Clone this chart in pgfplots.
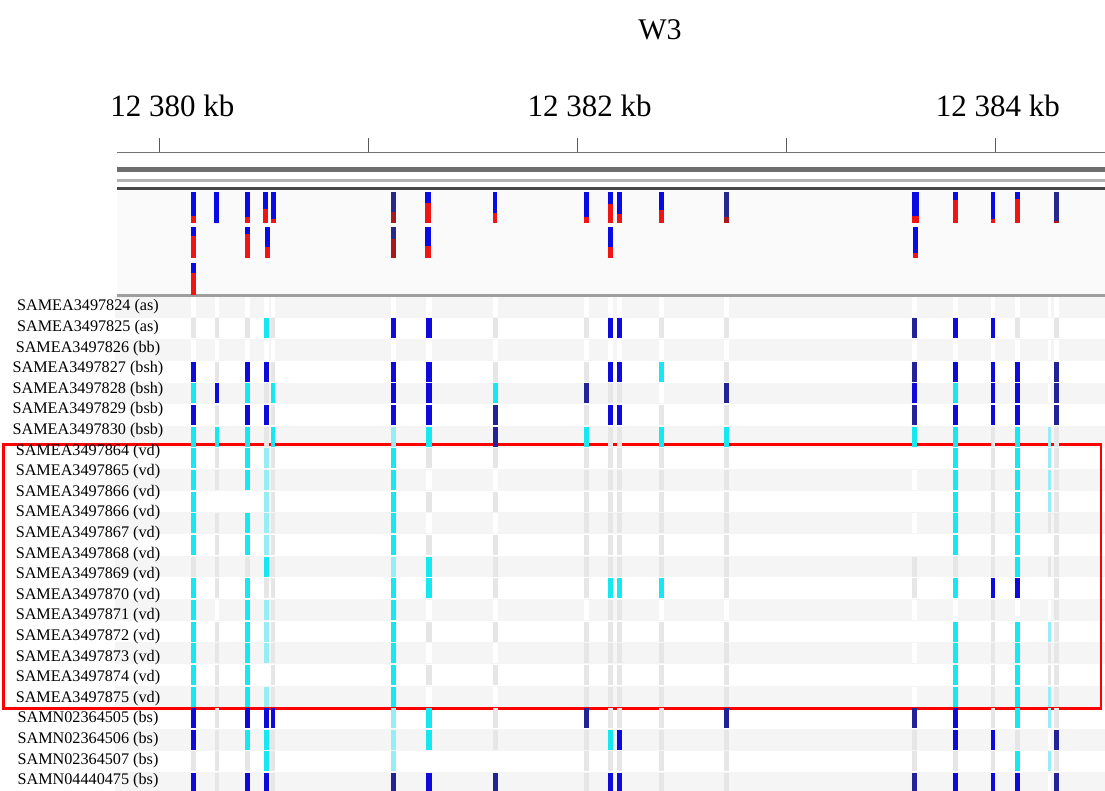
\documentclass[border=0pt]{standalone}
\usepackage{fontspec}
\setmainfont{Liberation Serif}
\usepackage{pgfplots}
\usepackage{pgfplotstable}
\pgfplotsset{compat=1.18}

\definecolor{gtC}{RGB}{22,232,242}
\definecolor{gtL}{RGB}{150,238,244}
\definecolor{gtB}{RGB}{15,10,220}
\definecolor{gtN}{RGB}{35,35,150}
\definecolor{gtG}{RGB}{230,230,230}
\definecolor{rowgray}{RGB}{245,245,245}
\definecolor{trackbg}{RGB}{250,250,250}
\definecolor{tB}{RGB}{10,10,230}
\definecolor{tR}{RGB}{240,20,20}
\definecolor{tDB}{RGB}{40,40,140}
\definecolor{tDR}{RGB}{170,25,25}

\pgfdeclareplotmark{gtbar}{\pgfpathrectangle{\pgfpoint{-0.5pt*\barw}{-5pt}}{\pgfpoint{1pt*\barw}{10pt}}\pgfusepath{fill}}
\pgfdeclareplotmark{tbblue}{\pgfpathrectangle{\pgfpoint{-0.5pt*\barw}{-15.8pt}}{\pgfpoint{1pt*\barw}{15.8pt}}\pgfusepath{fill}}
\pgfdeclareplotmark{tbred}{\pgfpathrectangle{\pgfpoint{-0.5pt*\barw}{-15.8pt}}{\pgfpoint{1pt*\barw}{15.8pt*\redf}}\pgfusepath{fill}}

% genotype matrix: one line per variant, one column per sample row
\pgfplotstableread{
x w s0 s1 s2 s3 s4 s5 s6 s7 s8 s9 s10 s11 s12 s13 s14 s15 s16 s17 s18 s19 s20 s21 s22
12380.164 2.3 W G W B C B C C C C C C G C C C C C C B B G B
12380.275 2.2 W G W G B G C G G W G G G G W G G G G G G G G
12380.421 2.3 W G W B C B C C C W C C G C C C C C C B C G B
12380.513 2.3 W C W B G B G L L L L L C G L L L W L B C C B
12380.545 2.2 W G W G C G C G G G G G G G G G G G G B G G G
12381.119 2.5 W B W B B B L C C C C C L C C C C C C L L L N
12381.289 3.2 W B W B B B C G W G W G C C W G W G W C C W B
12381.607 2.3 W G W G C N N G W G W G G G W G W G W G G W N
12382.043 2.3 W G W G N G C G G G G G G G W G G G G N G G G
12382.159 2.4 W B W B G B G G G G G G G C G G G G G G C G B
12382.200 2.4 W B W B G B G G G G G G G C G G G G G G B G B
12382.402 2.3 W G W C W G C G G G G G G C W G G G G G G G G
12382.713 2.3 W G W G N G C G G G G G G G W G G G G N G G G
12383.612 2.4 W N W N B N C W W W W W G G W W W W W N G G N
12383.810 2.4 W B W B C B C C C C C C G C W C C C C B B G B
12383.988 2.3 W B W B B B G G G G G G G B G G G G G G B G B
12384.104 2.3 W G W B B B C C C C C C C B W C C C C C G C B
12384.258 1.5 W W W W W W L L L L G W G W W L G G L L W L W
12384.291 2.3 W G W N N N G G G G G G G G G G G G G G N G N
}\gt

% variant track: x, top of bar (row units), width (pt), red fraction, dark flag
\pgfplotstableread{
x top w red d
12380.1645 -4.818 2.4 0.23 N
12380.2745 -4.818 2.4 0.00 N
12380.4209 -4.818 2.4 0.19 N
12380.5089 -4.818 2.4 0.45 N
12380.5452 -4.818 2.4 0.12 N
12381.1192 -4.818 2.4 0.37 D
12381.2866 -4.818 3.0 0.63 N
12381.6056 -4.818 2.4 0.32 N
12382.0432 -4.818 2.4 0.19 N
12382.1585 -4.818 2.4 0.61 N
12382.2006 -4.818 2.4 0.29 N
12382.4019 -4.818 2.4 0.42 N
12382.7133 -4.818 2.4 0.20 D
12383.6154 -4.818 3.4 0.23 N
12383.8076 -4.818 2.4 0.74 N
12383.9870 -4.818 2.4 0.12 N
12384.1042 -4.818 2.4 0.77 N
12384.2926 -4.818 2.4 0.08 D
12380.1645 -3.201 2.4 0.71 N
12380.4209 -3.201 2.4 0.77 N
12380.5165 -3.201 2.4 0.35 N
12381.1192 -3.201 2.4 0.62 D
12381.2866 -3.201 3.0 0.40 N
12382.1585 -3.201 2.4 0.37 N
12383.6154 -3.201 2.4 0.18 N
12380.1645 -1.510 2.4 0.69 N
}\vt

\begin{document}
\begin{tikzpicture}
\path[use as bounding box] (0,0) rectangle (552.5pt,395.5pt);
\begin{axis}[
  at={(58.5pt,0pt)}, anchor=south west,
  scale only axis, width=494pt, height=395.5pt,
  xmin=12379.7977, xmax=12384.5232,
  ymin=-13.672, ymax=22.864, y dir=reverse,
  axis on top,
  axis line style={draw=none}, tick style={draw=none},
  xtick=\empty,
  ytick={0.508,1.460,2.411,3.363,4.314,5.266,6.217,7.169,8.120,9.072,10.023,10.975,11.926,12.878,13.829,14.781,15.732,16.684,17.635,18.587,19.538,20.490,21.441,22.393},
  yticklabels={SAMEA3497824 (as),SAMEA3497825 (as),SAMEA3497826 (bb),SAMEA3497827 (bsh),SAMEA3497828 (bsh),SAMEA3497829 (bsb),SAMEA3497830 (bsb),SAMEA3497864 (vd),SAMEA3497865 (vd),SAMEA3497866 (vd),SAMEA3497866 (vd),SAMEA3497867 (vd),SAMEA3497868 (vd),SAMEA3497869 (vd),SAMEA3497870 (vd),SAMEA3497871 (vd),SAMEA3497872 (vd),SAMEA3497873 (vd),SAMEA3497874 (vd),SAMEA3497875 (vd),SAMN02364505 (bs),SAMN02364506 (bs),SAMN02364507 (bs),SAMN04440475 (bs)},
  yticklabel style={anchor=center, xshift=-14.5pt, font=\fontsize{8.1}{9}\selectfont},
  clip=false,
]
% alternating row backgrounds
\fill[rowgray] (axis cs:12379.788,0) rectangle (axis cs:12384.53,1);
\fill[rowgray] (axis cs:12379.788,2) rectangle (axis cs:12384.53,3);
\fill[rowgray] (axis cs:12379.788,4) rectangle (axis cs:12384.53,5);
\fill[rowgray] (axis cs:12379.788,6) rectangle (axis cs:12384.53,7);
\fill[rowgray] (axis cs:12379.788,8) rectangle (axis cs:12384.53,9);
\fill[rowgray] (axis cs:12379.788,10) rectangle (axis cs:12384.53,11);
\fill[rowgray] (axis cs:12379.788,12) rectangle (axis cs:12384.53,13);
\fill[rowgray] (axis cs:12379.788,14) rectangle (axis cs:12384.53,15);
\fill[rowgray] (axis cs:12379.788,16) rectangle (axis cs:12384.53,17);
\fill[rowgray] (axis cs:12379.788,18) rectangle (axis cs:12384.53,19);
\fill[rowgray] (axis cs:12379.788,20) rectangle (axis cs:12384.53,21);
\fill[rowgray] (axis cs:12379.788,22) rectangle (axis cs:12384.53,23);
% variant track background and ruler
\fill[trackbg] (axis cs:12379.7977,-4.896) rectangle (axis cs:12384.5232,-0.079);
\draw[line width=0.8pt, black!55] (axis cs:12379.7977,-6.628) -- (axis cs:12384.5232,-6.628);
\draw[line width=2.2pt, black!57] (axis cs:12379.7977,-5.843) -- (axis cs:12384.5232,-5.843);
\draw[line width=1.2pt, black!30] (axis cs:12379.7977,-5.335) -- (axis cs:12384.5232,-5.335);
\draw[line width=1.6pt, black!72] (axis cs:12379.7977,-4.975) -- (axis cs:12384.5232,-4.975);
\draw[line width=1.2pt, black!38] (axis cs:12379.7977,-0.023) -- (axis cs:12384.5232,-0.023);
\draw[line width=0.7pt, black!65] (axis cs:12380,-7.284) -- (axis cs:12380,-6.628);
\draw[line width=0.7pt, black!65] (axis cs:12381,-7.284) -- (axis cs:12381,-6.628);
\draw[line width=0.7pt, black!65] (axis cs:12382,-7.284) -- (axis cs:12382,-6.628);
\draw[line width=0.7pt, black!65] (axis cs:12383,-7.284) -- (axis cs:12383,-6.628);
\draw[line width=0.7pt, black!65] (axis cs:12384,-7.284) -- (axis cs:12384,-6.628);
\node[anchor=base, font=\fontsize{15.5}{18}\selectfont] at (axis cs:12380.063,-8.268) {12 380 kb};
\node[anchor=base, font=\fontsize{15.5}{18}\selectfont] at (axis cs:12382.058,-8.268) {12 382 kb};
\node[anchor=base, font=\fontsize{15.5}{18}\selectfont] at (axis cs:12384.011,-8.268) {12 384 kb};
\node[anchor=base, font=\fontsize{15}{18}\selectfont] at (axis cs:12382.395,-11.824) {W3};
% variant track bars
\addplot[scatter, only marks, mark=tbblue, scatter src=explicit symbolic,
  scatter/classes={N={fill=tB}, D={fill=tDB}},
  visualization depends on={\thisrow{w}\as\barw}]
  table[x=x, y=top, meta=d] {\vt};
\addplot[scatter, only marks, mark=tbred, scatter src=explicit symbolic,
  scatter/classes={N={fill=tR}, D={fill=tDR}},
  visualization depends on={\thisrow{w}\as\barw},
  visualization depends on={\thisrow{red}\as\redf}]
  table[x=x, y=top, meta=d] {\vt};
% genotype cells
\pgfplotsinvokeforeach{0,...,22}{
  \addplot[scatter, only marks, mark=gtbar, scatter src=explicit symbolic,
    scatter/classes={C={fill=gtC}, L={fill=gtL}, B={fill=gtB}, N={fill=gtN}, G={fill=gtG}, W={fill=white}},
    visualization depends on={\thisrow{w}\as\barw}]
    table[x=x, y expr=#1+0.5, meta=s#1] {\gt};
}
% highlight box
\draw[red, line width=1.35pt] (axis cs:12379.2539,6.859) rectangle (axis cs:12384.504,19.048);
\end{axis}
\end{tikzpicture}
\end{document}
